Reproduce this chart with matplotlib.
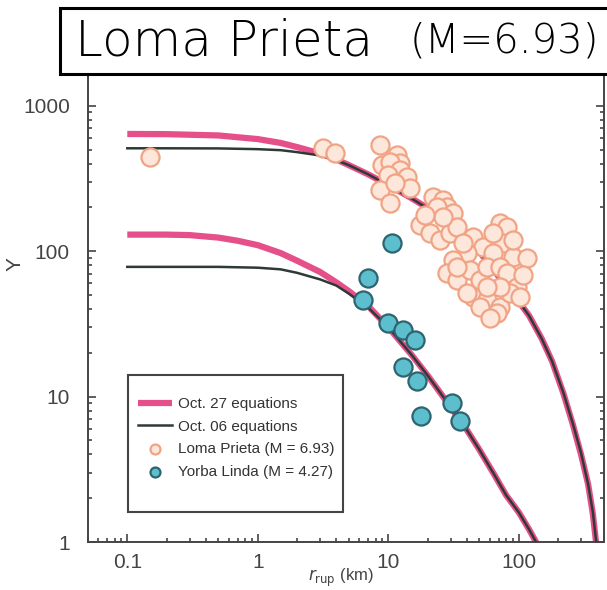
import matplotlib
matplotlib.use("Agg")
import matplotlib.pyplot as plt
from matplotlib.patches import Rectangle

# equation curves (distance in km, Y)
r_big = [0.1, 0.2, 0.5, 1, 1.5, 2, 3, 4, 5, 7, 10, 15, 20, 30, 50, 70, 100, 120, 150, 180,
         220, 260, 300, 340, 370, 395]
y_big_oct27 = [640, 638, 625, 590, 555, 520, 470, 428, 390, 338, 285, 232, 198, 155, 99, 67,
               45, 36, 25, 17.5, 10.5, 6.4, 4.0, 2.5, 1.55, 0.92]
y_big_oct06 = [510, 510, 509, 503, 495, 480, 455, 423, 390, 338, 284, 231, 197, 154, 98, 67,
               45, 36, 25, 17.5, 10.6, 6.5, 4.1, 2.5, 1.6, 0.95]

r_small = [0.1, 0.2, 0.3, 0.5, 0.7, 1, 1.5, 2, 3, 4, 5, 7, 10, 15, 20, 30, 40, 50, 65, 80,
           100, 120, 140]
y_small_oct27 = [130, 130, 129, 124, 118, 110, 97, 86, 72, 61, 53, 42, 30, 19.5, 14, 8.5, 5.9,
                 4.3, 2.9, 2.1, 1.6, 1.22, 0.95]
y_small_oct06 = [78, 78, 78, 78, 77.5, 77, 75, 71, 64, 58, 51, 41, 30, 19.5, 14, 8.5, 5.9,
                 4.3, 2.9, 2.1, 1.6, 1.22, 0.95]

# recorded data
lp_r = [0.149, 3.16, 3.91, 8.64, 11.7, 12.3, 8.95, 10.3, 12.3, 9.95, 13.9, 14.7, 8.64, 10.3,
        11.2, 22.0, 26.2, 28.2, 23.6, 31.3, 17.5, 20.9, 24.9, 29.7, 33.6, 26.2, 44.6, 53.2,
        71.8, 81.3, 75.7, 90.4, 116, 63.4, 40.1, 31.3, 28.2, 33.6, 42.3, 50.5, 57.0, 71.8,
        81.3, 96.8, 44.6, 57.0, 71.8, 68.1, 50.5, 40.1, 33.6, 85.7, 71.8, 102, 57.0, 90.4, 63.4,
        19.1, 37.4, 108, 60.1]
lp_y = [446, 515, 476, 540, 461, 406, 393, 412, 363, 336, 325, 273, 265, 215,
        296, 237, 226, 202, 202, 184, 152, 134, 120, 134, 147, 173, 126, 107,
        157, 147, 114, 91.5, 90.1, 97.5, 97.5, 87.3, 71.0, 63.6, 74.5, 63.6, 78.1, 78.1,
        71.0, 56.9, 48.5, 46.3, 41.4, 37.7, 41.4, 51.7, 78.1, 51.7, 56.9, 48.5, 56.9, 120, 134,
        178, 114, 68.8, 34.8]

yl_r = [10.7, 7.0, 6.4, 9.95, 13.0, 16.0, 13.0, 16.6, 17.8, 30.8, 35.5]
yl_y = [114, 65.6, 46.3, 32.2, 28.8, 24.6, 16.0, 12.8, 7.4, 9.05, 6.8]

x_ticks = [0.1, 1, 10, 100]
x_ticklabels = ["0.1", "1", "10", "100"]
y_ticks = [1, 10, 100, 1000]
y_ticklabels = ["1", "10", "100", "1000"]

plt.rcParams['font.family'] = ['Liberation Sans', 'DejaVu Sans']

W, H = 607, 590
fig = plt.figure(figsize=(W / 100, H / 100), dpi=100)
ax = fig.add_axes([88 / W, 1 - 542 / H, (604 - 88) / W, (542 - 62) / H])

pink = '#e5508a'
dark = '#2e3a36'
grey = '#444444'

ax.plot(r_big, y_big_oct27, color=pink, lw=4.5, solid_capstyle='butt', label='Oct. 27 equations', zorder=2)
ax.plot(r_small, y_small_oct27, color=pink, lw=4.5, solid_capstyle='butt', zorder=2)
ax.plot(r_big, y_big_oct06, color=dark, lw=1.8, label='Oct. 06 equations', zorder=3)
ax.plot(r_small, y_small_oct06, color=dark, lw=1.8, zorder=3)

ax.scatter(lp_r, lp_y, s=170, facecolor='#fde6da', edgecolor='#f0a485', lw=1.6,
           label='Loma Prieta (M = 6.93)', zorder=4)
ax.scatter(yl_r, yl_y, s=170, facecolor='#5dbfcd', edgecolor='#2d6470', lw=1.6,
           label='Yorba Linda (M = 4.27)', zorder=5)

ax.set_xscale('log')
ax.set_yscale('log')
ax.set_xlim(0.05, 450)
ax.set_ylim(1, 2000)
ax.set_xticks(x_ticks)
ax.set_xticklabels(x_ticklabels)
ax.set_yticks(y_ticks)
ax.set_yticklabels(y_ticklabels)

for s in ax.spines.values():
    s.set_color(grey)
    s.set_linewidth(1.4)
ax.tick_params(which='both', direction='in', top=True, right=True, color=grey, width=1.2)
ax.tick_params(which='major', length=6)
ax.tick_params(which='minor', length=3)
ax.tick_params(axis='x', labelsize=15, pad=8, labelcolor=grey)
ax.tick_params(axis='y', labelsize=15, pad=13, labelcolor=grey)

ax.set_ylabel('Y', fontsize=15, color=grey)
ax.yaxis.set_label_coords(-0.124, 0.58)
ax.set_xlabel(r'$r_{\mathrm{rup}}$ (km)', fontsize=12, color=grey)
ax.xaxis.set_label_coords(0.49, -0.052)

# legend: own frame, entries placed inside it
ax.add_patch(Rectangle((40 / 516, 30 / 480), 215 / 516, 137 / 480, transform=ax.transAxes,
                       facecolor='white', edgecolor=grey, lw=1.5, zorder=6))
leg = ax.legend(loc='upper left', bbox_to_anchor=(50 / 516, 145 / 480), borderaxespad=0,
                borderpad=0, frameon=False, markerscale=0.55, handlelength=2.2,
                handletextpad=0.45, labelspacing=0.57, prop={'size': 11})
leg.set_zorder(7)
for t in leg.get_texts():
    t.set_color('#333333')

# title box over the top of the chart
fig.patches.append(Rectangle((60 / W, 1 - 74 / H), 560 / W, 66 / H, transform=fig.transFigure,
                             facecolor='white', edgecolor='black', lw=2.2, zorder=10))
fig.text(75 / W, 1 - 41 / H, 'Loma Prieta', fontsize=36, va='center', ha='left',
         family='DejaVu Sans', fontweight='light', zorder=11)
fig.text(599 / W, 1 - 41 / H, '(M=6.93)', fontsize=29, va='center', ha='right',
         family='DejaVu Sans', fontweight='light', zorder=11)

fig.savefig('out.png', dpi=100)
